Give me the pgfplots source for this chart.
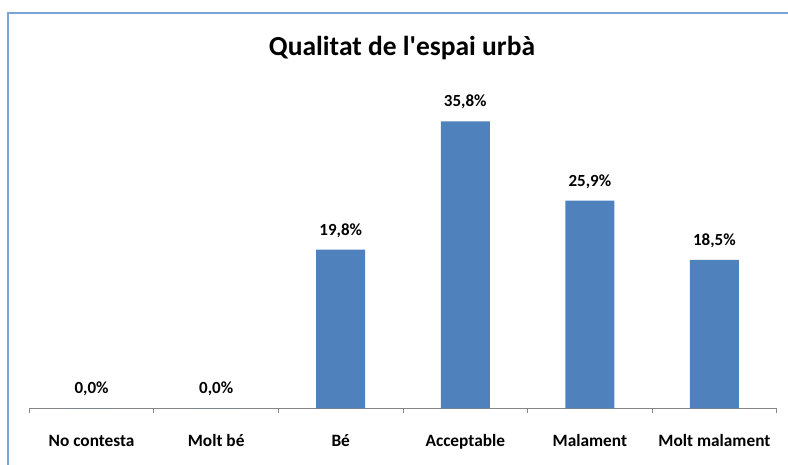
\documentclass[border=0pt]{standalone}
\usepackage{pgfplots}
\pgfplotsset{compat=1.18}
\usepackage{fontspec}
\setmainfont{Carlito}[Ligatures=TeXOff]
\definecolor{barblue}{HTML}{4F81BD}
\definecolor{framecol}{HTML}{7BA3D3}
\definecolor{axcol}{HTML}{868686}
\begin{document}
\begin{tikzpicture}
\useasboundingbox (0,0) rectangle (788pt,464pt);
\draw[framecol, line width=1.6pt] (8pt,-10pt) -- (8pt,450.7pt) -- (800pt,450.7pt);
\node[font=\fontsize{27.5}{32}\selectfont\bfseries, anchor=base, inner sep=0pt] at (402pt,408pt) {Qualitat de l'espai urbà};
\begin{axis}[
  at={(29.3pt,55.7pt)}, anchor=south west,
  scale only axis, width=747.4pt, height=320.7pt,
  xmin=-0.5, xmax=5.5, ymin=0, ymax=40,
  axis y line=none, axis x line*=bottom,
  x axis line style={axcol, line width=1.2pt},
  ybar, bar width=49pt,
  xtick={0,...,5},
  xticklabels={No contesta, Molt bé, Bé, Acceptable, Malament, Molt malament},
  major tick length=0pt,
  minor xtick={-0.5,0.5,...,5.5},
  minor tick length=5pt, tick align=outside,
  minor tick style={axcol, line width=1pt},
  xticklabel style={font=\fontsize{17.3}{20}\selectfont\bfseries, anchor=base, yshift=-37.7pt, inner sep=0pt},
  nodes near coords={\pgfmathprintnumber[assume math mode=true,fixed,fixed zerofill,precision=1,use comma]{\pgfplotspointmeta}\%},
  nodes near coords style={font=\fontsize{17}{20}\selectfont\bfseries, anchor=base, yshift=14.4pt, inner sep=0pt},
]
\addplot[fill=barblue, draw=none] coordinates {(0,0.0) (1,0.0) (2,19.8) (3,35.8) (4,25.9) (5,18.5)};
\end{axis}
\end{tikzpicture}
\end{document}
